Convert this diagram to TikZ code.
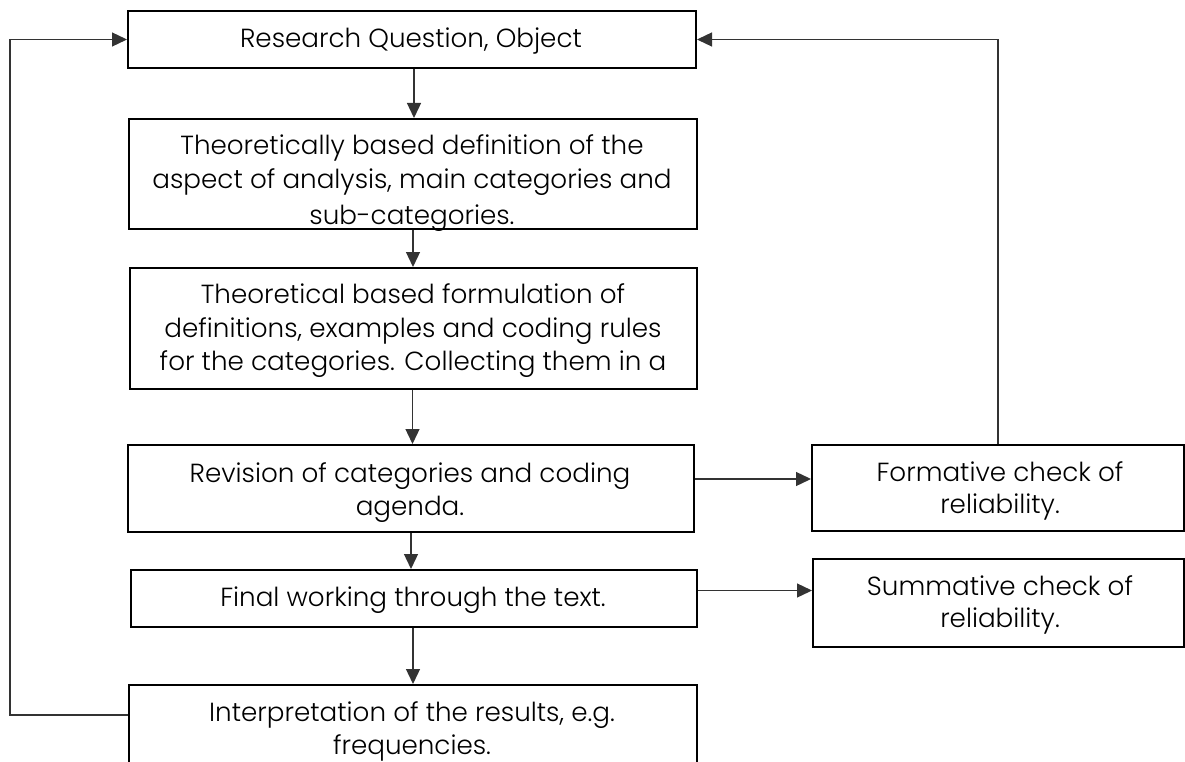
\documentclass[tikz,border=0pt]{standalone}
\usepackage{fontspec}
\setmainfont{Poppins}[UprightFont=* Light]
\usetikzlibrary{arrows.meta}
\begin{document}
\begin{tikzpicture}[x=1pt,y=-1pt,
  box/.style={draw=black, line width=2pt, inner sep=0pt, anchor=north west},
  conn/.style={draw=black!80, line width=1.3pt},
  arr/.style={conn, -{Triangle[length=15pt,width=14pt]}},
  lbl/.style={anchor=base, inner sep=0pt, font=\fontsize{26.2}{34}\selectfont}]
\clip (0,0) rectangle (1185,762);

% main column of process steps
\node[box, minimum width=568pt, minimum height=57pt]  (q)      at (127,10)  {};
\node[box, minimum width=568pt, minimum height=110pt] (def)    at (128,118) {};
\node[box, minimum width=567pt, minimum height=121pt] (form)   at (129,267) {};
\node[box, minimum width=566pt, minimum height=87pt]  (rev)    at (127,444) {};
\node[box, minimum width=566pt, minimum height=57pt]  (fin)    at (130,569) {};
\node[box, minimum width=568pt, minimum height=110pt] (interp) at (128,684) {};

% reliability checks
\node[box, minimum width=372pt, minimum height=86pt]  (fc) at (811,444) {};
\node[box, minimum width=371pt, minimum height=88pt]  (sc) at (812,558) {};

% texts
\node[lbl] (tq) at (411,48) {Research Question, Object};

\begin{scope}
  \clip (def.north west) rectangle (def.south east);
  \node[lbl] (tdef1) at (412,155) {Theoretically based definition of the};
  \node[lbl] (tdef2) at (412,189) {aspect of analysis, main categories and};
  \node[lbl] (tdef3) at (412,224) {sub-categories.};
\end{scope}

\begin{scope}
  \clip (form.north west) rectangle (form.south east);
  \node[lbl] (tform1) at (413,303) {Theoretical based formulation of};
  \node[lbl] (tform2) at (413,337) {definitions, examples and coding rules};
  \node[lbl] (tform3) at (413,370) {for the categories. Collecting them in a};
\end{scope}

\node[lbl] (trev1) at (410,482) {Revision of categories and coding};
\node[lbl] (trev2) at (410,515) {agenda.};
\node[lbl] (tfin)  at (413,606) {Final working through the text.};
\node[lbl] (tint1) at (412,721) {Interpretation of the results, e.g.};
\node[lbl] (tint2) at (412,754) {frequencies.};

\node[lbl] (tfc1) at (1000,481) {Formative check of};
\node[lbl] (tfc2) at (1000,513) {reliability.};
\node[lbl] (tsc1) at (1000,595) {Summative check of};
\node[lbl] (tsc2) at (1000,627) {reliability.};

% flow downwards
\draw[arr] ([xshift=2pt]q.south) -- ([xshift=2pt]q.south |- def.north);
\draw[arr] (def.south) -- (def.south |- form.north);
\draw[arr] ([xshift=-1pt]form.south) -- ([xshift=-1pt]form.south |- rev.north);
\draw[arr] (rev.south) -- (rev.south |- fin.north);
\draw[arr] ([xshift=-1pt]fin.south) -- ([xshift=-1pt]fin.south |- interp.north);

% side checks
\draw[arr] ([yshift=9.5pt]rev.east) -- ([yshift=9.5pt]rev.east -| fc.west);
\draw[arr] ([yshift=8pt]fin.east) -- ([yshift=8pt]fin.east -| sc.west);

% feedback loops to the research question
\draw[arr] (fc.north) |- (q.east);
\draw[arr] ([yshift=-31pt]interp.north west) -- ++(-118,0) |- (q.west);
\end{tikzpicture}
\end{document}
